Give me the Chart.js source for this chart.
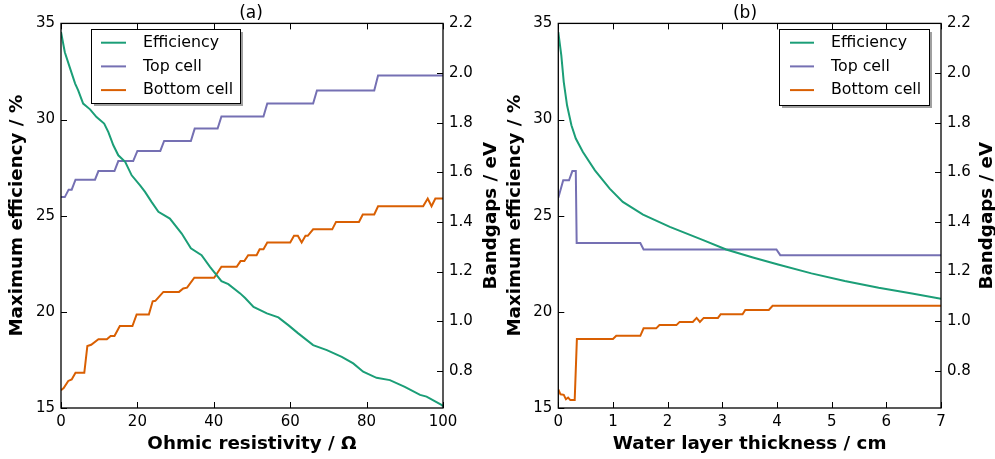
<!DOCTYPE html>
<html><head><meta charset="utf-8">
<script src="https://cdn.jsdelivr.net/npm/chart.js@4.4.0/dist/chart.umd.min.js"></script>
<style>
html,body{margin:0;padding:0;background:#fff;}
#wrap{position:relative;width:995px;height:459px;overflow:hidden;background:#fff;}
canvas{position:absolute;top:0;}
#c1{left:0;}
#c2{left:495px;}
</style></head><body>
<div id="wrap">
<canvas id="c1" width="502" height="459"></canvas>
<canvas id="c2" width="500" height="459"></canvas>
</div>
<script>
// ---------- DATA ----------
const seriesLabels = ['Efficiency', 'Top cell', 'Bottom cell'];
const effTicks = [15, 20, 25, 30, 35];
const gapTicks = [0.8, 1.0, 1.2, 1.4, 1.6, 1.8, 2.0, 2.2];
const xTicksA = [0, 20, 40, 60, 80, 100];
const xTicksB = [0, 1, 2, 3, 4, 5, 6, 7];

// (a) Ohmic resistivity
const effResA = [0, 1, 2.4, 3.7, 4.5, 5.8, 7.6, 9.3, 11.3, 12.4, 13.7, 15, 16.8, 18.5, 20.7, 22, 23.7, 25.5, 28.5, 31.6, 34, 36.8, 39, 42, 43.8, 46.9, 48.2, 50.4, 53.9, 56.9, 59.5, 62.1, 66, 69.6, 73.5, 76.5, 79.1, 82.6, 86.1, 90, 94, 95.7, 99.6, 100];
const effA = [34.55, 33.5, 32.65, 31.87, 31.52, 30.83, 30.53, 30.13, 29.79, 29.35, 28.66, 28.14, 27.8, 27.1, 26.58, 26.24, 25.72, 25.2, 24.85, 24.07, 23.3, 22.95, 22.34, 21.6, 21.44, 20.96, 20.72, 20.26, 19.92, 19.71, 19.31, 18.88, 18.27, 18.01, 17.66, 17.32, 16.89, 16.57, 16.45, 16.1, 15.68, 15.59, 15.16, 15.1];
const topResA = [0, 1, 2, 2.8, 3.8, 8.9, 9.8, 14, 15, 18.9, 20, 26, 27, 34, 35, 41, 42, 53, 54, 66, 67, 82, 83, 100];
const topA = [1.50, 1.50, 1.53, 1.53, 1.57, 1.57, 1.605, 1.605, 1.645, 1.645, 1.686, 1.686, 1.726, 1.726, 1.776, 1.776, 1.825, 1.825, 1.877, 1.877, 1.93, 1.93, 1.99, 1.99];
const botResA = [0, 0.7, 1.9, 2.8, 3.8, 6.1, 6.9, 7.9, 9.8, 12, 13, 14, 15.4, 18.7, 19.8, 23, 24, 24.7, 26.8, 30.9, 32, 33, 34.9, 40.1, 42, 46, 47, 48, 49, 51.2, 52, 53, 54, 60, 61, 62, 63, 64, 64.6, 66, 71, 72, 78, 79, 82, 83, 94.8, 96, 97, 98, 100];
const botA = [0.722, 0.73, 0.759, 0.765, 0.792, 0.792, 0.90, 0.905, 0.927, 0.927, 0.94, 0.94, 0.98, 0.98, 1.027, 1.027, 1.08, 1.082, 1.118, 1.118, 1.132, 1.135, 1.175, 1.175, 1.219, 1.219, 1.242, 1.242, 1.266, 1.266, 1.29, 1.29, 1.317, 1.317, 1.344, 1.344, 1.317, 1.344, 1.344, 1.37, 1.37, 1.40, 1.40, 1.43, 1.43, 1.463, 1.463, 1.494, 1.463, 1.494, 1.494];

// (b) Water layer thickness
const effThkB = [0, 0.055, 0.1, 0.16, 0.24, 0.32, 0.45, 0.67, 0.94, 1.18, 1.55, 2.04, 2.65, 3.07, 3.56, 4.02, 4.63, 5.24, 5.86, 6.47, 7];
const effB = [34.55, 33.34, 31.95, 30.74, 29.7, 29.01, 28.31, 27.36, 26.41, 25.72, 25.06, 24.42, 23.73, 23.24, 22.83, 22.46, 22.0, 21.6, 21.25, 20.96, 20.68];
const topThkB = [0, 0.09, 0.196, 0.257, 0.32, 0.336, 1.5, 1.56, 3.99, 4.06, 7];
const topB = [1.497, 1.568, 1.568, 1.605, 1.605, 1.315, 1.315, 1.289, 1.289, 1.266, 1.266];
const botThkB = [0, 0.04, 0.1, 0.14, 0.18, 0.22, 0.3, 0.34, 1.0, 1.06, 1.5, 1.56, 1.79, 1.85, 2.16, 2.22, 2.46, 2.53, 2.59, 2.66, 2.92, 2.97, 3.37, 3.42, 3.85, 3.92, 7];
const botB = [0.725, 0.705, 0.703, 0.685, 0.692, 0.682, 0.682, 0.928, 0.928, 0.941, 0.941, 0.971, 0.971, 0.984, 0.984, 0.997, 0.997, 1.013, 0.997, 1.013, 1.013, 1.028, 1.028, 1.045, 1.045, 1.062, 1.062];

// ---------- CHART ----------
const COLORS = ['#1b9e77', '#7570b3', '#d95f02'];
const FONT = "'DejaVu Sans', 'Liberation Sans', sans-serif";
Chart.defaults.font.family = FONT;
Chart.defaults.color = '#000';

function pts(xs, ys) { return xs.map((x, i) => ({x: x, y: ys[i]})); }

const frameLegend = {
  id: 'frameLegend',
  afterDraw(chart, args, o) {
    const {ctx, chartArea: a, scales} = chart;
    ctx.save();
    ctx.strokeStyle = '#000';
    ctx.lineWidth = 1;
    const L = 6;
    ctx.beginPath();
    scales.x.ticks.forEach(t => {
      const p = Math.round(scales.x.getPixelForValue(t.value)) + 0.5;
      ctx.moveTo(p, a.bottom); ctx.lineTo(p, a.bottom - L);
      ctx.moveTo(p, a.top); ctx.lineTo(p, a.top + L);
    });
    scales.y.ticks.forEach(t => {
      const p = Math.round(scales.y.getPixelForValue(t.value)) + 0.5;
      ctx.moveTo(a.left, p); ctx.lineTo(a.left + L, p);
    });
    scales.y2.ticks.forEach(t => {
      const p = Math.round(scales.y2.getPixelForValue(t.value)) + 0.5;
      ctx.moveTo(a.right, p); ctx.lineTo(a.right - L, p);
    });
    ctx.stroke();
    ctx.lineWidth = 1.3;
    ctx.strokeRect(a.left, a.top, a.right - a.left, a.bottom - a.top);

    // right axis title, reading bottom-to-top
    ctx.save();
    ctx.fillStyle = '#000';
    ctx.font = 'bold ' + o.titleSize + 'px ' + FONT;
    ctx.textAlign = 'center';
    ctx.textBaseline = 'middle';
    ctx.translate(o.rightTitleX, (a.top + a.bottom) / 2);
    ctx.rotate(-Math.PI / 2);
    ctx.fillText(o.rightTitle, 0, 0);
    ctx.restore();

    // legend box with shadow
    ctx.fillStyle = '#a0a0a0';
    ctx.fillRect(o.x + 3, o.y + 3, o.w, o.h);
    ctx.fillStyle = '#fff';
    ctx.fillRect(o.x, o.y, o.w, o.h);
    ctx.lineWidth = 1;
    ctx.strokeStyle = '#000';
    ctx.strokeRect(o.x + 0.5, o.y + 0.5, o.w, o.h);
    ctx.font = o.fontSize + 'px ' + FONT;
    ctx.textBaseline = 'middle';
    ctx.textAlign = 'left';
    chart.data.datasets.forEach((ds, i) => {
      const yy = o.y + o.row0 + i * o.rowGap;
      ctx.strokeStyle = ds.borderColor;
      ctx.lineWidth = 2;
      ctx.beginPath();
      ctx.moveTo(o.x + o.h0, yy); ctx.lineTo(o.x + o.h1, yy);
      ctx.stroke();
      ctx.fillStyle = '#000';
      ctx.fillText(ds.label, o.x + o.tx, yy);
    });
    ctx.restore();
  }
};

function makeChart(id, cfg) {
  const tickFont = {size: 15};
  const titleFont = {size: 18.3, weight: 'bold', lineHeight: 1};
  return new Chart(document.getElementById(id), {
    type: 'line',
    data: {
      datasets: cfg.series.map((s, i) => ({
        label: seriesLabels[i],
        data: pts(s[0], s[1]),
        borderColor: COLORS[i],
        backgroundColor: COLORS[i],
        borderWidth: 2,
        pointRadius: 0,
        tension: 0,
        fill: false,
        yAxisID: i === 0 ? 'y' : 'y2'
      }))
    },
    options: {
      responsive: false,
      animation: false,
      events: [],
      layout: {padding: 0},
      plugins: {
        legend: {display: false},
        tooltip: {enabled: false},
        title: {display: true, text: cfg.title, color: '#000',
                font: {size: 17, weight: 'normal', lineHeight: 1.2},
                padding: {top: 3, bottom: 0}},
        frameLegend: cfg.legend
      },
      scales: {
        x: {
          type: 'linear', min: cfg.xTicks[0], max: cfg.xTicks[cfg.xTicks.length - 1],
          afterBuildTicks: s => { s.ticks = cfg.xTicks.map(v => ({value: v})); },
          afterFit: s => { s.height = 51; },
          grid: {display: false, drawTicks: false},
          border: {display: false},
          ticks: {font: tickFont, padding: 5, autoSkip: false, maxRotation: 0, callback: v => String(v)},
          title: {display: true, text: cfg.xTitle, font: titleFont, padding: {top: 6, bottom: 6}}
        },
        y: {
          type: 'linear', position: 'left', min: 15, max: 35,
          afterBuildTicks: s => { s.ticks = effTicks.map(v => ({value: v})); },
          afterFit: s => { s.width = cfg.leftW; },
          grid: {display: false, drawTicks: false},
          border: {display: false},
          ticks: {font: tickFont, padding: 6, autoSkip: false, callback: v => String(v)},
          title: {display: true, text: 'Maximum efficiency / %', font: titleFont, padding: {top: cfg.leftP, bottom: 0}}
        },
        y2: {
          type: 'linear', position: 'right', min: 0.65, max: 2.2,
          afterBuildTicks: s => { s.ticks = gapTicks.map(v => ({value: v})); },
          afterFit: s => { s.width = cfg.rightW; },
          grid: {display: false, drawTicks: false},
          border: {display: false},
          ticks: {font: tickFont, padding: 6, autoSkip: false, callback: v => v.toFixed(1)},
          title: {display: false}
        }
      }
    },
    plugins: [frameLegend]
  });
}

makeChart('c1', {
  title: '(a)', xTitle: 'Ohmic resistivity / Ω', xTicks: xTicksA,
  leftW: 61, rightW: 59, leftP: 8.5,
  series: [[effResA, effA], [topResA, topA], [botResA, botA]],
  legend: {x: 91, y: 29, w: 149, h: 74, row0: 13.7, rowGap: 23.7, h0: 10, h1: 35, tx: 52, fontSize: 15.8,
           rightTitle: 'Bandgaps / eV', rightTitleX: 491, titleSize: 18.3}
});
makeChart('c2', {
  title: '(b)', xTitle: 'Water layer thickness / cm', xTicks: xTicksB,
  leftW: 63.3, rightW: 54, leftP: 11.5,
  series: [[effThkB, effB], [topThkB, topB], [botThkB, botB]],
  legend: {x: 284, y: 29, w: 150, h: 76, row0: 13.7, rowGap: 23.7, h0: 11, h1: 35, tx: 52, fontSize: 15.8,
           rightTitle: 'Bandgaps / eV', rightTitleX: 492, titleSize: 18.3}
});
</script>
</body></html>
